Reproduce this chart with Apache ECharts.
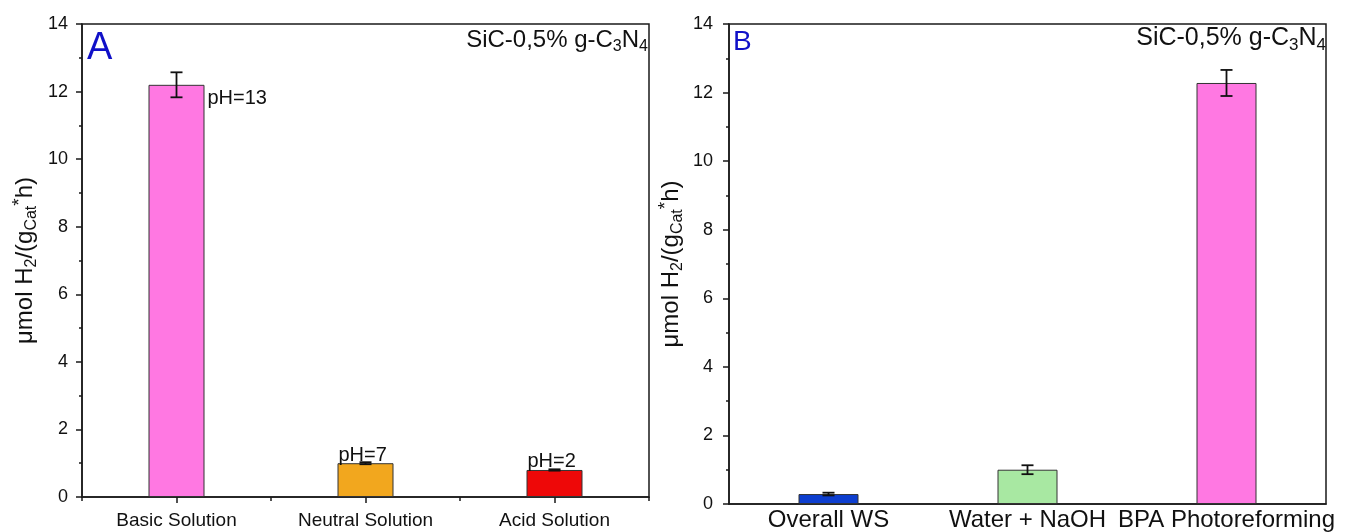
<!DOCTYPE html>
<html>
<head>
<meta charset="utf-8">
<script src="https://cdn.jsdelivr.net/npm/echarts@6/dist/echarts.min.js"></script>
<style>
html,body{margin:0;padding:0;background:#fff;}
#chart{width:1348px;height:532px;}
</style>
</head>
<body>
<div id="chart"></div>
<script>
// ---- data ----
const leftCategories = ['Basic Solution', 'Neutral Solution', 'Acid Solution'];
const leftValues = [12.2, 1.0, 0.8];
const leftErrors = [0.37, 0.03, 0.02];
const leftPH = ['pH=13', 'pH=7', 'pH=2'];
const leftColors = ['#FF78E2', '#F2A71E', '#EE0808'];

const rightCategories = ['Overall WS', 'Water + NaOH', 'BPA Photoreforming'];
const rightValues = [0.29, 1.0, 12.28];
const rightErrors = [0.04, 0.13, 0.38];
const rightColors = ['#0D3ECF', '#A8E8A2', '#FF78E2'];

const yTicksMin = 0, yTicksMax = 14, yTicksInterval = 2;

const FONT = 'Liberation Sans, Arial, sans-serif';
const AXIS_COLOR = '#1a1a1a';

const chart = echarts.init(document.getElementById('chart'));

function errorRender(params, api) {
  const x = api.value(0), v = api.value(1), e = api.value(2);
  const top = api.coord([x, v + e]);
  const bot = api.coord([x, v - e]);
  const cap = 6;
  const style = { stroke: '#111', lineWidth: 1.8 };
  return {
    type: 'group',
    children: [
      { type: 'line', shape: { x1: top[0], y1: top[1], x2: bot[0], y2: bot[1] }, style },
      { type: 'line', shape: { x1: top[0] - cap, y1: top[1], x2: top[0] + cap, y2: top[1] }, style },
      { type: 'line', shape: { x1: bot[0] - cap, y1: bot[1], x2: bot[0] + cap, y2: bot[1] }, style }
    ]
  };
}

function yAxisCommon(gridIndex, nameGap, nameSize, labelMargin) {
  return {
    type: 'value', gridIndex, min: yTicksMin, max: yTicksMax, interval: yTicksInterval,
    name: '{m|μmol H}{s|2}{m|/(g}{s|Cat}{p|*}{m|h)}',
    nameLocation: 'middle', nameGap,
    nameTextStyle: {
      rich: {
        m: { fontSize: nameSize, fontFamily: FONT, color: '#111', lineHeight: 30, verticalAlign: 'middle' },
        s: { fontSize: Math.round(nameSize * 0.68), fontFamily: FONT, color: '#111', lineHeight: 30, verticalAlign: 'bottom' },
        p: { fontSize: Math.round(nameSize * 0.8), fontFamily: FONT, color: '#111', lineHeight: 30, verticalAlign: 'top' }
      }
    },
    axisLine: { show: true, lineStyle: { color: AXIS_COLOR, width: 1.5 } },
    axisTick: { show: true, length: 6, lineStyle: { color: AXIS_COLOR, width: 1.5 } },
    minorTick: { show: true, splitNumber: 2, length: 3, lineStyle: { color: AXIS_COLOR, width: 1.5 } },
    axisLabel: { fontSize: 18, fontFamily: FONT, color: '#111', margin: labelMargin },
    splitLine: { show: false }
  };
}

function sicText(size, subSize) {
  return {
    text: '{m|SiC-0,5% g-C}{s|3}{m|N}{s|4}',
    rich: {
      m: { fontSize: size, fontFamily: FONT, fill: '#111', lineHeight: 30, verticalAlign: 'middle' },
      s: { fontSize: subSize, fontFamily: FONT, fill: '#111', lineHeight: 30, verticalAlign: 'bottom' }
    }
  };
}

const option = {
  backgroundColor: '#fff',
  animation: false,
  grid: [
    { left: 82, top: 24, width: 567, height: 473, show: true, borderColor: AXIS_COLOR, borderWidth: 1.5, backgroundColor: 'transparent' },
    { left: 729, top: 24, width: 597, height: 483, show: true, borderColor: AXIS_COLOR, borderWidth: 1.5, backgroundColor: 'transparent' }
  ],
  xAxis: [
    {
      type: 'category', gridIndex: 0, data: leftCategories, position: 'bottom',
      axisLine: { show: true, lineStyle: { color: AXIS_COLOR, width: 1.5 } },
      axisTick: { show: true, alignWithLabel: true, length: 6, lineStyle: { color: AXIS_COLOR, width: 1.5 } },
      axisLabel: { fontSize: 19, fontFamily: FONT, color: '#111', margin: 14, interval: 0 }
    },
    {
      type: 'category', gridIndex: 0, data: leftCategories, position: 'bottom',
      axisLine: { show: false },
      axisTick: { show: true, alignWithLabel: false, length: 4, lineStyle: { color: AXIS_COLOR, width: 1.5 } },
      axisLabel: { show: false }
    },
    {
      type: 'category', gridIndex: 1, data: rightCategories, position: 'bottom',
      axisLine: { show: true, lineStyle: { color: AXIS_COLOR, width: 1.5 } },
      axisTick: { show: false },
      axisLabel: { fontSize: 24, fontFamily: FONT, color: '#111', margin: 4, interval: 0 }
    }
  ],
  yAxis: [
    yAxisCommon(0, 42, 24, 14),
    yAxisCommon(1, 43, 24, 16)
  ],
  series: [
    {
      type: 'bar', xAxisIndex: 0, yAxisIndex: 0, barWidth: 56,
      data: leftValues.map((v, i) => ({
        value: v,
        itemStyle: { color: leftColors[i], borderColor: '#333', borderWidth: 1 },
        label: i === 0
          ? { show: true, formatter: leftPH[i], position: ['100%', 4], offset: [3, 0], align: 'left', verticalAlign: 'top', fontSize: 20, fontFamily: FONT, color: '#111' }
          : { show: true, formatter: leftPH[i], position: [0, 0], offset: [1, 2], align: 'left', verticalAlign: 'bottom', fontSize: 20, fontFamily: FONT, color: '#111' }
      }))
    },
    {
      type: 'custom', xAxisIndex: 0, yAxisIndex: 0, renderItem: errorRender, z: 5,
      data: leftValues.map((v, i) => [i, v, leftErrors[i]])
    },
    {
      type: 'bar', xAxisIndex: 2, yAxisIndex: 1, barWidth: 60,
      data: rightValues.map((v, i) => ({
        value: v,
        itemStyle: { color: rightColors[i], borderColor: '#333', borderWidth: 1 }
      }))
    },
    {
      type: 'custom', xAxisIndex: 2, yAxisIndex: 1, renderItem: errorRender, z: 5,
      data: rightValues.map((v, i) => [i, v, rightErrors[i]])
    }
  ],
  graphic: [
    { type: 'text', left: 87, top: 30, style: { text: 'A', fontSize: 38, fontFamily: FONT, fill: '#1010C8' } },
    { type: 'text', left: 733, top: 28, style: { text: 'B', fontSize: 28, fontFamily: FONT, fill: '#1010C8' } },
    { type: 'text', right: 1348 - 648, top: 28, style: sicText(24, 16) },
    { type: 'text', right: 1348 - 1326, top: 26, style: sicText(25, 17) }
  ]
};

chart.setOption(option);
</script>
</body>
</html>
